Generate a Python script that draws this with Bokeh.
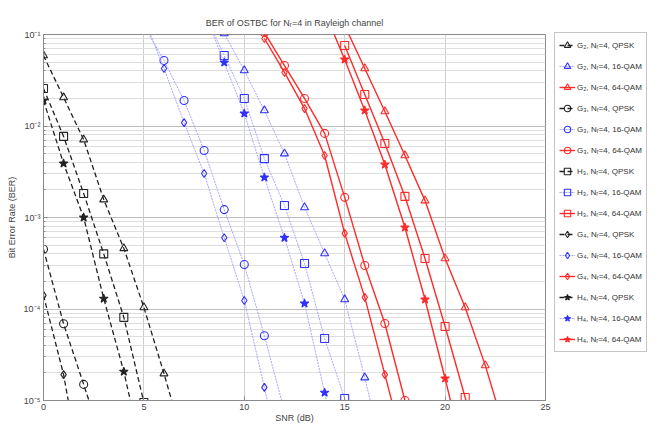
from bokeh.plotting import figure
from bokeh.models import (Range1d, FixedTicker, LogTicker, CustomJSTickFormatter,
                          Legend, LegendItem)
from bokeh.embed import file_html
from bokeh.resources import INLINE

# ---------------- data ----------------
# QPSK (black, dashed)
snr_g2_qpsk = [0, 1, 2, 3, 4, 5, 6, 7]
ber_g2_qpsk = [5.9e-2, 2.05e-2, 7.1e-3, 1.57e-3, 4.6e-4, 1.04e-4, 1.97e-5, 3.4e-6]
snr_g3_qpsk = [0, 1, 2, 3]
ber_g3_qpsk = [4.5e-4, 6.9e-5, 1.5e-5, 3.2e-6]
snr_h3_qpsk = [0, 1, 2, 3, 4, 5]
ber_h3_qpsk = [2.57e-2, 7.7e-3, 1.83e-3, 4.0e-4, 8.1e-5, 9.5e-6]
snr_g4_qpsk = [0, 1, 2]
ber_g4_qpsk = [1.41e-4, 1.92e-5, 1.15e-6]
snr_h4_qpsk = [0, 1, 2, 3, 4, 5]
ber_h4_qpsk = [1.9e-2, 3.9e-3, 1.0e-3, 1.3e-4, 2.07e-5, 2.2e-6]

# 16-QAM (blue, dotted)
snr_g2_16 = [8, 9, 10, 11, 12, 13, 14, 15, 16, 17]
ber_g2_16 = [0.25, 0.1026, 0.0405, 0.01477, 5.0e-3, 1.29e-3, 4.05e-4, 1.27e-4, 1.78e-5, 2.1e-6]
snr_g3_16 = [5, 6, 7, 8, 9, 10, 11, 12]
ber_g3_16 = [0.125, 0.052, 0.019, 5.4e-3, 1.22e-3, 3.06e-4, 5.1e-5, 7.6e-6]
snr_h3_16 = [8, 9, 10, 11, 12, 13, 14, 15, 16]
ber_h3_16 = [0.174, 0.059, 0.02, 4.4e-3, 1.35e-3, 3.14e-4, 4.76e-5, 1.05e-5, 1.7e-6]
snr_g4_16 = [5, 6, 7, 8, 9, 10, 11, 12]
ber_g4_16 = [0.15, 0.0425, 0.0109, 3.03e-3, 6.0e-4, 1.24e-4, 1.39e-5, 1.34e-6]
snr_h4_16 = [8, 9, 10, 11, 12, 13, 14, 15]
ber_h4_16 = [0.178, 0.0494, 0.0137, 2.74e-3, 6.0e-4, 1.15e-4, 1.22e-5, 1.34e-6]

# 64-QAM (red, solid)
snr_g2_64 = [15, 16, 17, 18, 19, 20, 21, 22, 23]
ber_g2_64 = [0.125, 0.0425, 0.0144, 4.76e-3, 1.53e-3, 3.57e-4, 1.04e-4, 2.42e-5, 4.5e-6]
snr_g3_64 = [11, 12, 13, 14, 15, 16, 17, 18]
ber_g3_64 = [0.105, 0.0458, 0.02, 8.3e-3, 1.66e-3, 2.99e-4, 6.95e-5, 1.0e-5]
snr_h3_64 = [15, 16, 17, 18, 19, 20, 21, 22]
ber_h3_64 = [0.0758, 0.0221, 6.44e-3, 1.7e-3, 3.57e-4, 6.44e-5, 1.08e-5, 1.5e-6]
snr_g4_64 = [11, 12, 13, 14, 15, 16, 17, 18]
ber_g4_64 = [0.0904, 0.0385, 0.0155, 4.76e-3, 6.7e-4, 1.34e-4, 1.92e-5, 2.8e-6]
snr_h4_64 = [14, 15, 16, 17, 18, 19, 20, 21]
ber_h4_64 = [0.178, 0.0533, 0.0148, 3.79e-3, 7.78e-4, 1.27e-4, 1.74e-5, 2.2e-6]

x_ticks = [0, 5, 10, 15, 20, 25]
title_text = "BER of OSTBC for N\u1d63=4 in Rayleigh channel"
x_label = "SNR (dB)"
y_label = "Bit Error Rate (BER)"

# (label, snr, ber, marker, style-key)
series = [
    ("G\u2082, N\u1d63=4, QPSK", snr_g2_qpsk, ber_g2_qpsk, "triangle", "qpsk"),
    ("G\u2082, N\u1d63=4, 16-QAM", snr_g2_16, ber_g2_16, "triangle", "16"),
    ("G\u2082, N\u1d63=4, 64-QAM", snr_g2_64, ber_g2_64, "triangle", "64"),
    ("G\u2083, N\u1d63=4, QPSK", snr_g3_qpsk, ber_g3_qpsk, "circle", "qpsk"),
    ("G\u2083, N\u1d63=4, 16-QAM", snr_g3_16, ber_g3_16, "circle", "16"),
    ("G\u2083, N\u1d63=4, 64-QAM", snr_g3_64, ber_g3_64, "circle", "64"),
    ("H\u2083, N\u1d63=4, QPSK", snr_h3_qpsk, ber_h3_qpsk, "square", "qpsk"),
    ("H\u2083, N\u1d63=4, 16-QAM", snr_h3_16, ber_h3_16, "square", "16"),
    ("H\u2083, N\u1d63=4, 64-QAM", snr_h3_64, ber_h3_64, "square", "64"),
    ("G\u2084, N\u1d63=4, QPSK", snr_g4_qpsk, ber_g4_qpsk, "diamond", "qpsk"),
    ("G\u2084, N\u1d63=4, 16-QAM", snr_g4_16, ber_g4_16, "diamond", "16"),
    ("G\u2084, N\u1d63=4, 64-QAM", snr_g4_64, ber_g4_64, "diamond", "64"),
    ("H\u2084, N\u1d63=4, QPSK", snr_h4_qpsk, ber_h4_qpsk, "star", "qpsk"),
    ("H\u2084, N\u1d63=4, 16-QAM", snr_h4_16, ber_h4_16, "star", "16"),
    ("H\u2084, N\u1d63=4, 64-QAM", snr_h4_64, ber_h4_64, "star", "64"),
]

styles = {
    "qpsk": dict(line_color="#222222", line_width=1.3, line_dash="5 3",
                 marker_color="#222222"),
    "16": dict(line_color="#a4a4ff", line_width=1.0, line_dash="2 1",
               marker_color="#3030ff"),
    "64": dict(line_color="#ff2a2a", line_width=1.4, line_dash="solid",
               marker_color="#ff2a2a"),
}

FONT = "Liberation Sans"

p = figure(frame_width=502, frame_height=366, output_backend="svg",
           toolbar_location=None,
           y_axis_type="log", x_range=Range1d(0, 25), y_range=Range1d(1e-5, 1e-1),
           min_border_left=43, min_border_right=114, min_border_top=34,
           min_border_bottom=22)
p.background_fill_color = "white"
p.border_fill_color = "white"
p.outline_line_color = "#8a8a8a"

p.title.text = title_text
p.title.align = "center"
p.title.vertical_align = "top"
p.title.text_font = FONT
p.title.text_font_size = "9px"
p.title.text_font_style = "normal"
p.title.text_color = "#444444"
p.title.offset = 0
p.title.standoff = 10

p.xaxis.ticker = FixedTicker(ticks=x_ticks)
p.yaxis.ticker = LogTicker(num_minor_ticks=10)
p.yaxis.formatter = CustomJSTickFormatter(code="""
const sup = {'-':'\u207b','0':'\u2070','1':'\u00b9','2':'\u00b2','3':'\u00b3','4':'\u2074','5':'\u2075','6':'\u2076','7':'\u2077','8':'\u2078','9':'\u2079'};
const e = Math.round(Math.log10(tick));
return '10' + String(e).split('').map(c => sup[c]).join('');
""")
for ax in (p.xaxis[0], p.yaxis[0]):
    ax.axis_line_color = "#8a8a8a"
    ax.major_tick_in = 4
    ax.major_tick_out = 0
    ax.minor_tick_in = 2
    ax.minor_tick_out = 0
    ax.major_tick_line_color = "#8a8a8a"
    ax.minor_tick_line_color = "#8a8a8a"
    ax.major_label_text_font = FONT
    ax.major_label_text_font_size = "9px"
    ax.major_label_text_color = "#444444"
    ax.axis_label_text_font = FONT
    ax.axis_label_text_font_size = "9px"
    ax.axis_label_text_font_style = "normal"
    ax.axis_label_text_color = "#444444"
p.xaxis.axis_label = x_label
p.yaxis.axis_label = y_label
p.xaxis.minor_tick_line_color = None
p.xaxis.major_label_standoff = 3
p.xaxis.axis_label_standoff = 0
p.yaxis.major_label_standoff = 3
p.yaxis.axis_label_standoff = 4

p.xgrid.grid_line_color = "#cfcfcf"
p.ygrid.grid_line_color = "#bdbdbd"
p.ygrid.minor_grid_line_color = "#dedede"

items = []
for label, snr, ber, marker, key in series:
    st = styles[key]
    lr = p.line(snr, ber, line_color=st["line_color"], line_width=st["line_width"],
                line_dash=st["line_dash"])
    filled = marker == "star"
    sr = p.scatter(snr, ber, marker=marker, size=8 if marker != "star" else 9,
                   line_color=st["marker_color"], line_width=1.1,
                   fill_color=st["marker_color"] if filled else None)
    items.append(LegendItem(label=label, renderers=[lr, sr]))

legend = Legend(items=items, location=(9, 48), orientation="vertical")
legend.label_text_font = FONT
legend.label_text_font_size = "8px"
legend.label_text_color = "#333333"
legend.glyph_width = 16
legend.glyph_height = 16
legend.label_height = 16
legend.spacing = 5
legend.padding = 4
legend.margin = 0
legend.label_standoff = 2
legend.border_line_color = "#8a8a8a"
legend.background_fill_color = "white"
legend.background_fill_alpha = 1.0
p.add_layout(legend, "right")

open("out.html", "w").write(file_html(p, INLINE))
